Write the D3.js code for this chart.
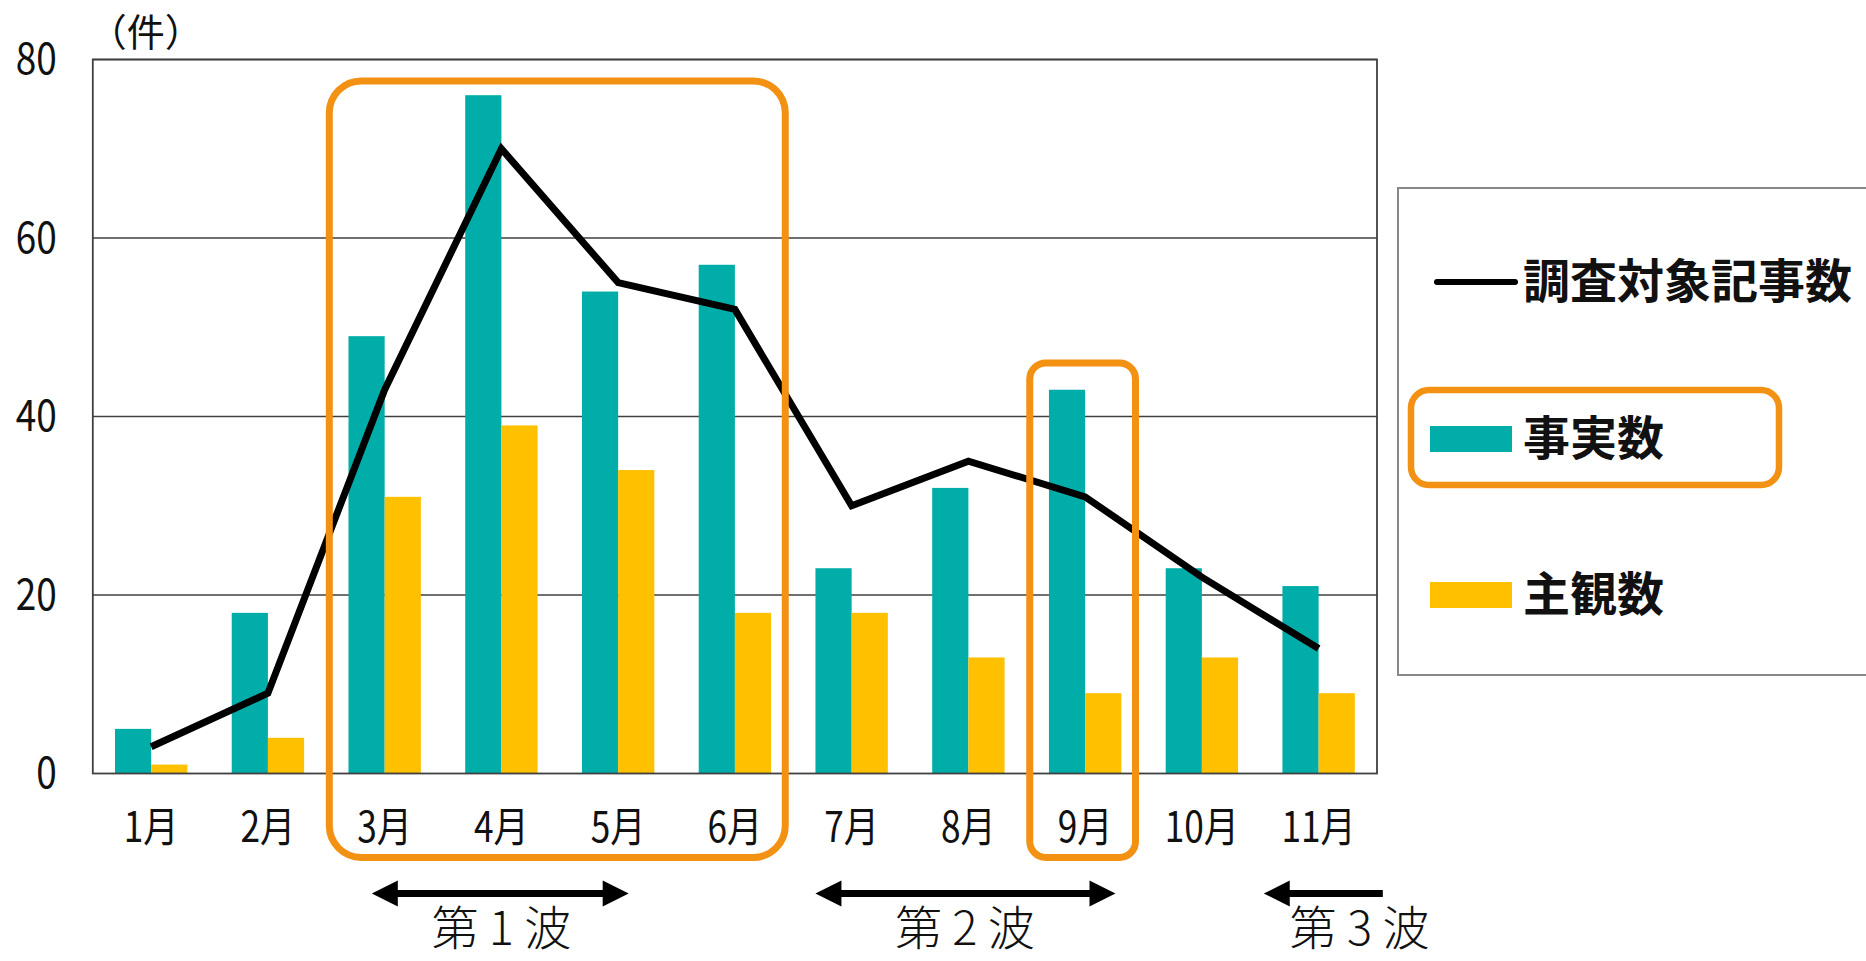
<!DOCTYPE html>
<html>
<head>
<meta charset="utf-8">
<script src="https://cdn.jsdelivr.net/npm/d3@7"></script>
<style>
  body { margin: 0; background: #fff; }
  text { font-family: "Noto Sans CJK JP", "Noto Sans", sans-serif; }
</style>
</head>
<body>
<svg id="chart"></svg>
<script>
const months = ["1月", "2月", "3月", "4月", "5月", "6月", "7月", "8月", "9月", "10月", "11月"];
const factCounts = [5, 18, 49, 76, 54, 57, 23, 32, 43, 23, 21];
const opinionCounts = [1, 4, 31, 39, 34, 18, 18, 13, 9, 13, 9];
const articleCounts = [3, 9, 43, 70, 55, 52, 30, 35, 31, 22, 14];
const yTicks = [0, 20, 40, 60, 80];
const seriesNames = { fact: "事実数", opinion: "主観数", total: "調査対象記事数" };
// highlighted month ranges (orange boxes), top given in axis units
const highlights = [
  { from: "3月", to: "6月", top: 77.6 },
  { from: "9月", to: "9月", top: 46 }
];
// waves, in month units along the x axis (0 = start of 1月)
const waves = [
  { label: "第 1 波", start: 2.39, end: 4.59, labelAt: 3.5, both: true },
  { label: "第 2 波", start: 6.19, end: 8.76, labelAt: 7.47, both: true },
  { label: "第 3 波", start: 10.03, end: 11.05, labelAt: 10.85, both: false }
];

const width = 1866, height = 961;
const margin = { top: 59.5, right: 489, bottom: 187.5, left: 92.8 };
const chartWidth = width - margin.left - margin.right;
const chartHeight = height - margin.top - margin.bottom;

const teal = "#00ADA9", yellow = "#FFC000", orange = "#F39112", gridColor = "#404040";
const narrow = 0.84; // condensed look of the axis font

const data = months.map((m, i) => ({
  month: m, fact: factCounts[i], opinion: opinionCounts[i], total: articleCounts[i]
}));

const root = d3.select("#chart").attr("width", width).attr("height", height);
const svg = root.append("g").attr("transform", `translate(${margin.left},${margin.top})`);

const x0 = d3.scaleBand().domain(months).range([0, chartWidth])
  .paddingInner(0.38).paddingOuter(0.19);
const x1 = d3.scaleBand().domain(["fact", "opinion"]).range([0, x0.bandwidth()]).padding(0);
const xm = d3.scaleLinear().domain([0, months.length]).range([0, chartWidth]);
const y = d3.scaleLinear().domain([0, 80]).range([chartHeight, 0]);
const color = d3.scaleOrdinal().domain(["fact", "opinion"]).range([teal, yellow]);

// grid lines
svg.append("g")
  .selectAll("line")
  .data(yTicks.filter(d => d > 0))
  .enter()
  .append("line")
  .attr("x1", 0).attr("x2", chartWidth)
  .attr("y1", d => y(d)).attr("y2", d => y(d))
  .attr("stroke", gridColor).attr("stroke-width", 1.6);

// bars
svg.append("g")
  .selectAll("g")
  .data(data)
  .enter()
  .append("g")
  .attr("transform", d => `translate(${x0(d.month)},0)`)
  .selectAll("rect")
  .data(d => [{ key: "fact", value: d.fact }, { key: "opinion", value: d.opinion }])
  .enter()
  .append("rect")
  .attr("x", d => x1(d.key))
  .attr("y", d => y(d.value))
  .attr("width", x1.bandwidth())
  .attr("height", d => chartHeight - y(d.value))
  .attr("fill", d => color(d.key));

// frame
svg.append("rect")
  .attr("x", 0).attr("y", 0)
  .attr("width", chartWidth).attr("height", chartHeight)
  .attr("fill", "none").attr("stroke", gridColor).attr("stroke-width", 1.8);

// total line
const line = d3.line()
  .x(d => x0(d.month) + x0.bandwidth() / 2)
  .y(d => y(d.total));
svg.append("path")
  .datum(data)
  .attr("d", line)
  .attr("fill", "none")
  .attr("stroke", "#000")
  .attr("stroke-width", 7)
  .attr("stroke-linejoin", "miter");

// Y axis
const yAxis = svg.append("g").call(d3.axisLeft(y).tickValues(yTicks).tickSize(0));
yAxis.select(".domain").remove();
yAxis.selectAll("text")
  .attr("x", -36 / narrow)
  .attr("transform", `scale(${narrow},1)`)
  .style("font-size", "44px")
  .attr("fill", "#111");

svg.append("text")
  .attr("x", -4).attr("y", -27)
  .attr("dy", "0.35em")
  .style("font-size", "38px")
  .attr("fill", "#111")
  .text("（件）");

// X axis
const xAxis = svg.append("g")
  .attr("transform", `translate(0,${chartHeight})`)
  .call(d3.axisBottom(x0).tickSize(0));
xAxis.select(".domain").remove();
xAxis.selectAll("text")
  .attr("y", 54).attr("dy", "0.35em")
  .attr("transform", `scale(${narrow},1)`)
  .style("font-size", "42px")
  .attr("fill", "#111");

// orange highlight boxes
const monthIndex = m => months.indexOf(m);
svg.append("g")
  .selectAll("rect")
  .data(highlights)
  .enter()
  .append("rect")
  .attr("x", d => xm(monthIndex(d.from)) + 3)
  .attr("y", d => y(d.top))
  .attr("width", d => xm(monthIndex(d.to) + 1) - 8 - (xm(monthIndex(d.from)) + 3))
  .attr("height", d => chartHeight + 84 - y(d.top))
  .attr("rx", d => d.from === d.to ? 16 : 32)
  .attr("fill", "none")
  .attr("stroke", orange)
  .attr("stroke-width", 7);

// wave arrows
const waveY = chartHeight + 120;
const head = 26, halfHead = 13;
const waveG = svg.append("g");
waves.forEach(w => {
  const xs = xm(w.start), xe = xm(w.end);
  waveG.append("line")
    .attr("x1", xs + head - 2).attr("x2", w.both ? xe - head + 2 : xe)
    .attr("y1", waveY).attr("y2", waveY)
    .attr("stroke", "#000").attr("stroke-width", 7);
  waveG.append("path")
    .attr("d", `M${xs},${waveY}L${xs + head},${waveY - halfHead}L${xs + head},${waveY + halfHead}Z`)
    .attr("fill", "#000");
  if (w.both) {
    waveG.append("path")
      .attr("d", `M${xe},${waveY}L${xe - head},${waveY - halfHead}L${xe - head},${waveY + halfHead}Z`)
      .attr("fill", "#000");
  }
  waveG.append("text")
    .attr("x", xm(w.labelAt)).attr("y", height - margin.top - 16)
    .attr("text-anchor", "middle")
    .style("font-size", "47px")
    .style("font-weight", 300)
    .attr("fill", "#111")
    .text(w.label);
});

// legend
const legend = root.append("g");
legend.append("rect")
  .attr("x", 1398).attr("y", 188)
  .attr("width", 500).attr("height", 487)
  .attr("fill", "#fff").attr("stroke", "#888").attr("stroke-width", 2);

legend.append("line")
  .attr("x1", 1437).attr("x2", 1515)
  .attr("y1", 282).attr("y2", 282)
  .attr("stroke", "#000").attr("stroke-width", 6).attr("stroke-linecap", "round");
legend.append("text")
  .attr("x", 1523).attr("y", 282).attr("dy", "0.35em")
  .style("font-size", "47px").style("font-weight", 700)
  .attr("fill", "#111")
  .text(seriesNames.total);

[["fact", 439], ["opinion", 595]].forEach(([key, cy]) => {
  legend.append("rect")
    .attr("x", 1430).attr("y", cy - 13)
    .attr("width", 82).attr("height", 26)
    .attr("fill", color(key));
  legend.append("text")
    .attr("x", 1523).attr("y", cy).attr("dy", "0.35em")
    .style("font-size", "47px").style("font-weight", 700)
    .attr("fill", "#111")
    .text(seriesNames[key]);
});

legend.append("rect")
  .attr("x", 1411).attr("y", 390)
  .attr("width", 368).attr("height", 95)
  .attr("rx", 18)
  .attr("fill", "none").attr("stroke", orange).attr("stroke-width", 6.5);
</script>
</body>
</html>
